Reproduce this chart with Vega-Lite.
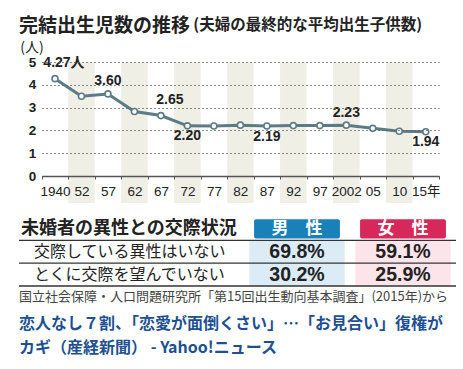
{
  "$schema": "https://vega.github.io/schema/vega-lite/v6.json",
  "background": "white",
  "padding": {"left": 18, "top": 16, "right": 0, "bottom": 0},
  "spacing": 3,
  "columns": 1,
  "align": "none",
  "title": {"text": "(夫婦の最終的な平均出生子供数)", "anchor": "start", "fontSize": 15.5, "fontWeight": "bold", "color": "#222", "font": "Noto Sans CJK JP", "dx": 175, "dy": 1.5, "offset": -15},
  "datasets": {
    "trend": [
      {"year": 1940, "children": 4.27},
      {"year": 1952, "children": 3.50},
      {"year": 1957, "children": 3.60},
      {"year": 1962, "children": 2.83},
      {"year": 1967, "children": 2.65},
      {"year": 1972, "children": 2.20},
      {"year": 1977, "children": 2.19},
      {"year": 1982, "children": 2.23},
      {"year": 1987, "children": 2.19},
      {"year": 1992, "children": 2.21},
      {"year": 1997, "children": 2.21},
      {"year": 2002, "children": 2.23},
      {"year": 2005, "children": 2.09},
      {"year": 2010, "children": 1.96},
      {"year": 2015, "children": 1.94}
    ],
    "table": [
      {"item": "交際している異性はいない", "sex": "男性", "pct": 69.8},
      {"item": "交際している異性はいない", "sex": "女性", "pct": 59.1},
      {"item": "とくに交際を望んでいない", "sex": "男性", "pct": 30.2},
      {"item": "とくに交際を望んでいない", "sex": "女性", "pct": 25.9}
    ],
    "header": [
      {"sex": "男性", "label": "男　性"},
      {"sex": "女性", "label": "女　性"}
    ],
    "section": [
      {"title": "未婚者の異性との交際状況"}
    ]
  },
  "concat": [
    {
      "width": 420,
      "height": 114,
      "title": {"text": "完結出生児数の推移", "anchor": "start", "fontSize": 19, "fontWeight": "bold", "color": "#222", "offset": 4.5, "frame": "bounds"},
      "data": {"name": "trend"},
      "layer": [
        {
          "transform": [{"filter": {"field": "year", "oneOf": [1952, 1962, 1972, 1982, 1992, 2002, 2010]}}],
          "mark": {"type": "bar", "color": "#efefe6"},
          "encoding": {
            "x": {"field": "year", "type": "ordinal", "scale": {"domain": [1940, 1952, 1957, 1962, 1967, 1972, 1977, 1982, 1987, 1992, 1997, 2002, 2005, 2010, 2015], "paddingInner": 0, "paddingOuter": 0, "range": [22.75, 420]},
              "axis": {"labelAngle": 0, "labelExpr": "!isValid(datum.value) ? '' : (datum.value == 1940 || datum.value == 2002 ? datum.value + '' : (datum.value == 2015 ? '15年' : slice(datum.value + '', 2)))", "labelFont": "Liberation Sans, Noto Sans CJK JP", "labelFontSize": 13.5, "labelColor": "#222", "labelPadding": 5, "labelOverlap": false, "domainColor": "#555", "domainWidth": 1.5, "tickColor": "#555", "tickSize": 3, "tickBand": "extent", "title": null, "zindex": 1}},
            "y": {"datum": 5, "type": "quantitative", "scale": {"domain": [0, 5], "nice": false},
              "axis": {"values": [0, 1, 2, 3, 4, 5], "tickCount": 6, "offset": -22.75, "labelOverlap": false, "grid": true, "gridDash": [1.5, 2.5], "gridColor": "#666", "gridWidth": 1.2, "domain": false, "ticks": false, "labelFont": "Liberation Sans", "labelFontSize": 13.5, "labelFontWeight": "bold", "labelColor": "#222", "labelPadding": 6, "title": "(人)", "titleAngle": 0, "titleAlign": "left", "titleBaseline": "middle", "titleX": -22, "titleY": -15, "titleFontSize": 14, "titleFontWeight": "normal", "titleColor": "#222", "titleFont": "Noto Sans CJK JP", "zindex": 1}},
            "y2": {"datum": -1.18}
          }
        },
        {
          "mark": {"type": "line", "color": "#5b7c87", "strokeWidth": 3},
          "encoding": {
            "x": {"field": "year", "type": "ordinal"},
            "y": {"field": "children", "type": "quantitative",
              "axis": {"values": [0, 1, 2, 3, 4, 5], "tickCount": 6, "offset": -22.75, "labelOverlap": false, "grid": true, "gridDash": [1.5, 2.5], "gridColor": "#666", "gridWidth": 1.2, "domain": false, "ticks": false, "labelFont": "Liberation Sans", "labelFontSize": 13.5, "labelFontWeight": "bold", "labelColor": "#222", "labelPadding": 6, "title": "(人)", "titleAngle": 0, "titleAlign": "left", "titleBaseline": "middle", "titleX": -22, "titleY": -15, "titleFontSize": 14, "titleFontWeight": "normal", "titleColor": "#222", "titleFont": "Noto Sans CJK JP", "zindex": 1}}
          }
        },
        {
          "mark": {"type": "point", "filled": true, "fill": "white", "stroke": "#5b7c87", "strokeWidth": 1.6, "size": 36, "opacity": 1},
          "encoding": {
            "x": {"field": "year", "type": "ordinal"},
            "y": {"field": "children", "type": "quantitative"}
          }
        },
        {
          "transform": [
            {"filter": {"field": "year", "oneOf": [1940, 1967]}},
            {"calculate": "datum.year == 1940 ? format(datum.children, '.2f') + '人' : format(datum.children, '.2f')", "as": "lab"}
          ],
          "mark": {"type": "text", "font": "Liberation Sans, Noto Sans CJK JP", "fontSize": 14, "fontWeight": "bold", "color": "#222", "dx": 9, "dy": -16, "baseline": "middle"},
          "encoding": {
            "x": {"field": "year", "type": "ordinal"},
            "y": {"field": "children", "type": "quantitative"},
            "text": {"field": "lab"}
          }
        },
        {
          "transform": [{"filter": {"field": "year", "oneOf": [1957, 2002]}}],
          "mark": {"type": "text", "font": "Liberation Sans", "fontSize": 14, "fontWeight": "bold", "color": "#222", "dy": -12.5, "baseline": "middle"},
          "encoding": {
            "x": {"field": "year", "type": "ordinal"},
            "y": {"field": "children", "type": "quantitative"},
            "text": {"field": "children", "format": ".2f"}
          }
        },
        {
          "transform": [{"filter": {"field": "year", "oneOf": [1972, 1987, 2015]}}],
          "mark": {"type": "text", "font": "Liberation Sans", "fontSize": 14, "fontWeight": "bold", "color": "#222", "dy": 10.5, "baseline": "middle"},
          "encoding": {
            "x": {"field": "year", "type": "ordinal"},
            "y": {"field": "children", "type": "quantitative"},
            "text": {"field": "children", "format": ".2f"}
          }
        }
      ]
    },
    {
      "width": 437,
      "height": 80,
      "layer": [
        {
          "data": {"name": "table"},
          "mark": {"type": "bar", "width": {"band": 0.9}},
          "encoding": {
            "x": {"field": "sex", "type": "nominal", "scale": {"domain": ["label", "label2", "男性", "女性"], "paddingInner": 0, "paddingOuter": 0.0613, "align": 1}, "axis": null},
            "y": {"field": "item", "type": "nominal", "scale": {"domain": ["head", "交際している異性はいない", "とくに交際を望んでいない"], "paddingInner": 0, "paddingOuter": 0.2519, "align": 1}, "axis": null},
            "fill": {"field": "sex", "type": "nominal", "scale": {"domain": ["男性", "女性"], "range": ["#dbecf7", "#fce4eb"]}, "legend": null}
          }
        },
        {
          "data": {"name": "header"},
          "mark": {"type": "bar", "width": {"band": 0.81}, "height": {"band": 0.84}, "cornerRadius": 2},
          "encoding": {
            "x": {"field": "sex", "type": "nominal"},
            "y": {"datum": "head"},
            "color": {"field": "sex", "type": "nominal", "scale": {"domain": ["男性", "女性"], "range": ["#1a80b8", "#d6285a"]}, "legend": null}
          }
        },
        {
          "data": {"name": "header"},
          "mark": {"type": "text", "color": "white", "fontSize": 17, "fontWeight": "bold", "baseline": "middle"},
          "encoding": {
            "x": {"field": "sex", "type": "nominal"},
            "y": {"datum": "head"},
            "text": {"field": "label"}
          }
        },
        {
          "data": {"name": "table"},
          "transform": [{"calculate": "format(datum.pct, '.1f') + '%'", "as": "pctlab"}],
          "mark": {"type": "text", "font": "Liberation Sans", "fontSize": 19.5, "fontWeight": "bold", "color": "#222", "baseline": "middle"},
          "encoding": {
            "x": {"field": "sex", "type": "nominal"},
            "y": {"field": "item", "type": "nominal"},
            "text": {"field": "pctlab"}
          }
        },
        {
          "data": {"name": "table"},
          "transform": [{"filter": "datum.sex == '男性'"}],
          "mark": {"type": "text", "fontSize": 16, "color": "#222", "align": "left", "baseline": "middle", "dx": 2},
          "encoding": {
            "x": {"datum": "label", "bandPosition": 0},
            "y": {"field": "item", "type": "nominal"},
            "text": {"field": "item"}
          }
        },
        {
          "data": {"name": "section"},
          "mark": {"type": "text", "fontSize": 18, "fontWeight": "bold", "color": "#222", "align": "left", "baseline": "middle", "dx": -11},
          "encoding": {
            "x": {"datum": "label", "bandPosition": 0},
            "y": {"datum": "head"},
            "text": {"field": "title"}
          }
        },
        {
          "data": {"name": "table"},
          "transform": [{"filter": "datum.sex == '男性'"}],
          "mark": {"type": "rule", "color": "#333", "strokeWidth": 1.3},
          "encoding": {
            "y": {"field": "item", "type": "nominal", "bandPosition": 0}
          }
        },
        {
          "data": {"name": "section"},
          "mark": {"type": "rule", "color": "#333", "strokeWidth": 1.3},
          "encoding": {
            "y": {"datum": "とくに交際を望んでいない", "bandPosition": 1}
          }
        }
      ]
    },
    {
      "width": 437,
      "height": 1,
      "data": {"values": [{}]},
      "mark": {"type": "text"},
      "encoding": {"text": {"value": ""}},
      "title": {"text": "国立社会保障・人口問題研究所「第15回出生動向基本調査」(2015年)から", "subtitle": ["恋人なし７割、「恋愛が面倒くさい」…「お見合い」復権が", "カギ（産経新聞） - Yahoo!ニュース"], "anchor": "start", "fontSize": 13, "fontWeight": "normal", "color": "#444", "subtitleFontSize": 16, "subtitleFontWeight": "bold", "subtitleColor": "#1d4f91", "subtitleLineHeight": 24, "subtitlePadding": 12, "offset": 0}
    }
  ],
  "config": {
    "view": {"stroke": null},
    "font": "Noto Sans CJK JP"
  }
}
